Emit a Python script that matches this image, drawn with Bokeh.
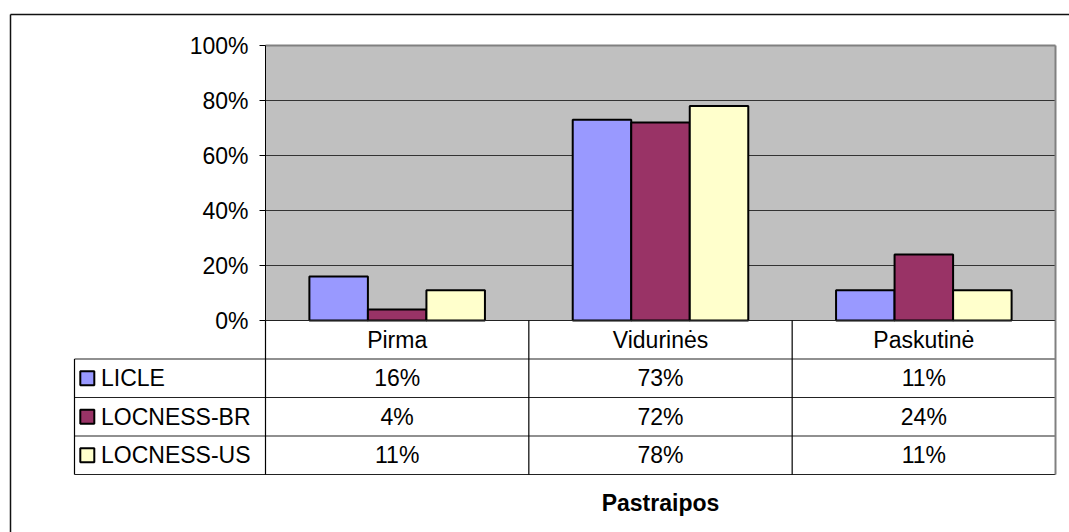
from bokeh.plotting import figure
from bokeh.models import Range1d, LinearAxis, FixedTicker, CustomJSTickFormatter, ColumnDataSource
from bokeh.core.properties import value
from bokeh.embed import file_html
from bokeh.resources import INLINE

# ---------------- data ----------------
categories = ["Pirma", "Vidurinės", "Paskutinė"]
series_names = ["LICLE", "LOCNESS-BR", "LOCNESS-US"]
licle = [16, 73, 11]
locness_br = [4, 72, 24]
locness_us = [11, 78, 11]
series_colors = ["#9999FF", "#993366", "#FFFFCC"]
y_ticks = [0, 20, 40, 60, 80, 100]
x_title = "Pastraipos"

series_values = [licle, locness_br, locness_us]

# ---------------- layout constants (pixels) ----------------
W, H = 1069, 532
ORG_X, ORG_Y = 0, 0
PLOT_L, PLOT_R, PLOT_T, PLOT_B = 265, 1055, 45, 320
TABLE_L = 74
ROW_H = 38.5
BORDER_L, BORDER_T = 10, 14
FONT = value("Liberation Sans")
FSIZE = value("23px")

ncat = len(categories)
nser = len(series_names)
sx = (PLOT_R - PLOT_L) / ncat
sy = (PLOT_B - PLOT_T) / 100.0


def X(px):
    return (px - PLOT_L) / sx


def Y(py):
    return (PLOT_B - py) / sy


p = figure(width=W, height=H,
           x_range=Range1d(X(ORG_X), X(ORG_X + W)),
           y_range=Range1d(Y(ORG_Y + H), Y(ORG_Y)),
           x_axis_type=None, y_axis_type=None,
           output_backend="svg", toolbar_location=None,
           min_border=0, outline_line_color=None,
           background_fill_color="white", border_fill_color="white")

# outer border (top & left visible; right/bottom beyond view)
p.segment(x0=[X(BORDER_L), X(BORDER_L)], y0=[Y(BORDER_T), Y(BORDER_T)],
          x1=[X(ORG_X + W + 5), X(BORDER_L)], y1=[Y(BORDER_T), Y(ORG_Y + H + 5)],
          line_color="#111111", line_width=1.5)

# plot area
p.quad(left=[0], right=[ncat], bottom=[0], top=[100],
       fill_color="#C0C0C0", line_color=None)
grid_vals = [t for t in y_ticks if 0 < t < 100]
p.segment(x0=[0] * len(grid_vals), x1=[ncat] * len(grid_vals),
          y0=grid_vals, y1=grid_vals, line_color="#333333", line_width=1)
# plot area border top/right (gray)
p.segment(x0=[0, ncat], y0=[100, 0], x1=[ncat, ncat], y1=[100, 100],
          line_color="#808080", line_width=2)

# bars
group = 1.0 / (nser + 1.5)
for j, (name, vals, col) in enumerate(zip(series_names, series_values, series_colors)):
    xs = [i + 0.5 + (j - (nser - 1) / 2) * group for i in range(ncat)]
    src = ColumnDataSource(dict(x=xs, top=vals))
    p.vbar(x="x", top="top", bottom=0, width=group, source=src,
           fill_color=col, line_color="black", line_width=2)

# y axis
yax = LinearAxis(fixed_location=0, bounds=(0, 100),
                 ticker=FixedTicker(ticks=y_ticks),
                 formatter=CustomJSTickFormatter(code="return tick + '%'"))
yax.axis_line_color = "black"
yax.axis_line_width = 1
yax.major_tick_in = 0
yax.major_tick_out = 6
yax.major_tick_line_color = "black"
yax.minor_tick_line_color = None
yax.major_label_standoff = 11
yax.major_label_text_font = "Liberation Sans"
yax.major_label_text_font_size = "23px"
yax.major_label_text_color = "black"
p.add_layout(yax, "left")

# data table
row_edges = [PLOT_B + k * ROW_H for k in range(nser + 2)]
# horizontal lines
hx0 = [X(PLOT_L)] + [X(TABLE_L)] * (nser + 1)
hx1 = [X(PLOT_R)] * (nser + 2)
hy = [Y(r) for r in row_edges]
p.segment(x0=hx0, x1=hx1, y0=hy, y1=hy, line_color="#222222", line_width=1.2)
# vertical lines
vx = [X(TABLE_L)] + [float(i) for i in range(ncat)]
vy0 = [Y(row_edges[1])] + [Y(row_edges[0])] * ncat
vy1 = [Y(row_edges[-1])] * (ncat + 1)
p.segment(x0=vx, x1=vx, y0=vy0, y1=vy1, line_color="black", line_width=1.2)
p.segment(x0=[ncat], x1=[ncat], y0=[Y(row_edges[0])], y1=[Y(row_edges[-1])],
          line_color="#808080", line_width=2)

# category header
p.text(x=[i + 0.5 for i in range(ncat)], y=[Y((row_edges[0] + row_edges[1]) / 2)] * ncat,
       text=categories, text_font=FONT, text_font_size=FSIZE,
       text_align="center", text_baseline="middle", text_color="black")

# series rows
for j, (name, vals, col) in enumerate(zip(series_names, series_values, series_colors)):
    yc = Y((row_edges[j + 1] + row_edges[j + 2]) / 2)
    p.rect(x=[X(TABLE_L + 12.8)], y=[yc], width=14, height=14,
           width_units="screen", height_units="screen",
           fill_color=col, line_color="black", line_width=2)
    p.text(x=[X(TABLE_L + 26.5)], y=[yc], text=[name], text_font=FONT,
           text_font_size=FSIZE, text_align="left", text_baseline="middle",
           text_color="black")
    p.text(x=[i + 0.5 for i in range(ncat)], y=[yc] * ncat,
           text=[f"{v}%" for v in vals], text_font=FONT, text_font_size=FSIZE,
           text_align="center", text_baseline="middle", text_color="black")

# axis title
p.text(x=[ncat / 2], y=[Y(502)], text=[x_title], text_font=FONT,
       text_font_size=FSIZE, text_font_style="bold", text_align="center",
       text_baseline="middle", text_color="black")

open("out.html", "w").write(file_html(p, INLINE))
